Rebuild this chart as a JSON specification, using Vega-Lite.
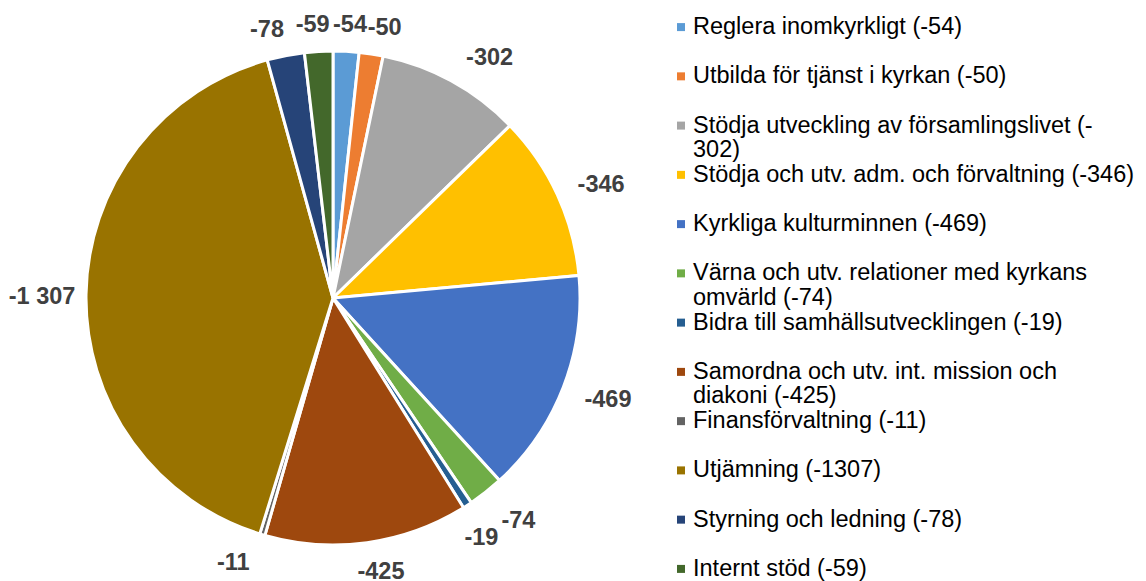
{
  "$schema": "https://vega.github.io/schema/vega-lite/v6.json",
  "padding": 0,
  "background": "white",
  "config": {"view": {"stroke": null}, "concat": {"spacing": 0}},
  "data": {"values": [
    {"i": 1, "k": "Reglera inomkyrkligt", "v": 54, "lab": "-54", "leg": "Reglera inomkyrkligt (-54)"},
    {"i": 2, "k": "Utbilda för tjänst i kyrkan", "v": 50, "lab": "-50", "leg": "Utbilda för tjänst i kyrkan (-50)"},
    {"i": 3, "k": "Stödja utveckling av församlingslivet", "v": 302, "lab": "-302", "leg": "Stödja utveckling av församlingslivet (-|302)"},
    {"i": 4, "k": "Stödja och utv. adm. och förvaltning", "v": 346, "lab": "-346", "leg": "Stödja och utv. adm. och förvaltning (-346)"},
    {"i": 5, "k": "Kyrkliga kulturminnen", "v": 469, "lab": "-469", "leg": "Kyrkliga kulturminnen (-469)"},
    {"i": 6, "k": "Värna och utv. relationer med kyrkans omvärld", "v": 74, "lab": "-74", "leg": "Värna och utv. relationer med kyrkans|omvärld (-74)"},
    {"i": 7, "k": "Bidra till samhällsutvecklingen", "v": 19, "lab": "-19", "leg": "Bidra till samhällsutvecklingen (-19)"},
    {"i": 8, "k": "Samordna och utv. int. mission och diakoni", "v": 425, "lab": "-425", "leg": "Samordna och utv. int. mission och|diakoni (-425)"},
    {"i": 9, "k": "Finansförvaltning", "v": 11, "lab": "-11", "leg": "Finansförvaltning (-11)"},
    {"i": 10, "k": "Utjämning", "v": 1307, "lab": "-1 307", "leg": "Utjämning (-1307)"},
    {"i": 11, "k": "Styrning och ledning", "v": 78, "lab": "-78", "leg": "Styrning och ledning (-78)"},
    {"i": 12, "k": "Internt stöd", "v": 59, "lab": "-59", "leg": "Internt stöd (-59)"}
  ]},
  "hconcat": [
    {
      "width": 666,
      "height": 596,
      "encoding": {
        "theta": {"field": "v", "type": "quantitative", "stack": true},
        "order": {"field": "i", "type": "quantitative", "sort": "ascending"}
      },
      "layer": [
        {
          "mark": {"type": "arc", "outerRadius": 247, "stroke": "white", "strokeWidth": 3},
          "encoding": {
            "color": {
              "field": "k", "type": "nominal", "legend": null,
              "scale": {
                "domain": ["Reglera inomkyrkligt", "Utbilda för tjänst i kyrkan", "Stödja utveckling av församlingslivet", "Stödja och utv. adm. och förvaltning", "Kyrkliga kulturminnen", "Värna och utv. relationer med kyrkans omvärld", "Bidra till samhällsutvecklingen", "Samordna och utv. int. mission och diakoni", "Finansförvaltning", "Utjämning", "Styrning och ledning", "Internt stöd"],
                "range": ["#5B9BD5", "#ED7D31", "#A5A5A5", "#FFC000", "#4472C4", "#70AD47", "#255E91", "#9E480E", "#636363", "#997300", "#264478", "#43682B"]
              }
            }
          }
        },
        {
          "mark": {
            "type": "text", "radius": 282, "fontSize": 23.5, "fontWeight": "bold", "font": "Liberation Sans", "color": "#404040",
            "dx": {"expr": "[0, 2, 8, 21, 12, 12, 11, -5, 9, -19, -9, -12, -4][datum.i]"},
            "dy": {"expr": "[0, 9, 9, 7, 5, 0, 1, 3, -5, -5, 3, 9, 9][datum.i]"}
          },
          "encoding": {"text": {"field": "lab", "type": "nominal"}}
        }
      ]
    },
    {
      "width": 30,
      "height": 596,
      "encoding": {
        "y": {"field": "k", "type": "nominal", "axis": null,
          "scale": {"type": "point", "padding": 0.55,
            "domain": ["Reglera inomkyrkligt", "Utbilda för tjänst i kyrkan", "Stödja utveckling av församlingslivet", "Stödja och utv. adm. och förvaltning", "Kyrkliga kulturminnen", "Värna och utv. relationer med kyrkans omvärld", "Bidra till samhällsutvecklingen", "Samordna och utv. int. mission och diakoni", "Finansförvaltning", "Utjämning", "Styrning och ledning", "Internt stöd"]}}
      },
      "layer": [
        {
          "mark": {"type": "square", "size": 64, "filled": true, "opacity": 1},
          "encoding": {"color": {"field": "k", "type": "nominal", "legend": null}}
        },
        {
          "mark": {"type": "text", "align": "left", "baseline": "middle", "dx": 12, "fontSize": 23.5, "font": "Liberation Sans", "lineBreak": "|", "lineHeight": 24.5, "color": "#000000"},
          "encoding": {"text": {"field": "leg", "type": "nominal"}}
        }
      ]
    }
  ]
}
